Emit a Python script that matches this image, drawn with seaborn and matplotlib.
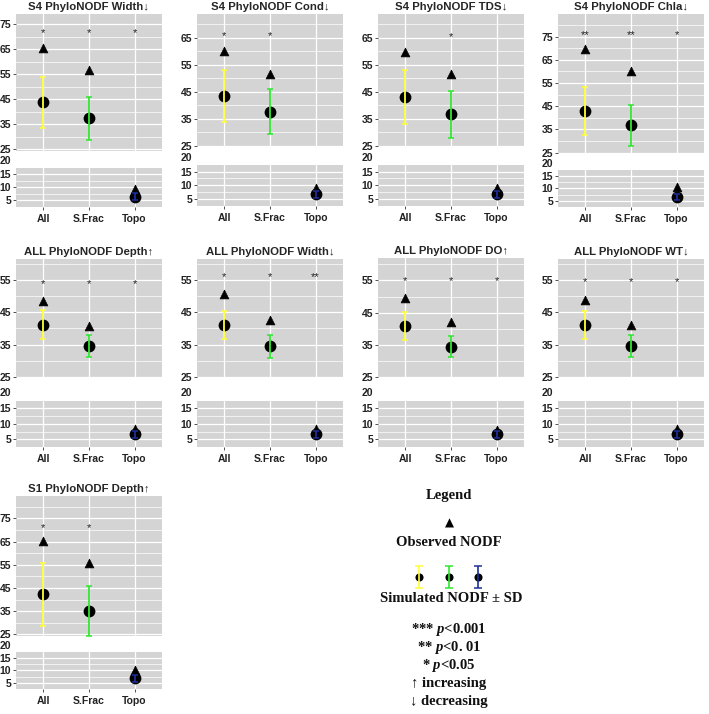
import matplotlib
matplotlib.use("Agg")
import matplotlib.pyplot as plt
import matplotlib.transforms as mtransforms
import numpy as np
import pandas as pd
import seaborn as sns

# --------------------------------------------------------------------------- #
# Dados
# --------------------------------------------------------------------------- #
panel_titles = [
    "S4 PhyloNODF Width↓", "S4 PhyloNODF Cond↓", "S4 PhyloNODF TDS↓",
    "S4 PhyloNODF Chla↓", "ALL PhyloNODF Depth↑", "ALL PhyloNODF Width↓",
    "ALL PhyloNODF DO↑", "ALL PhyloNODF WT↓", "S1 PhyloNODF Depth↑",
]
groups = ["All", "S.Frac", "Topo"]

observed = [
    [65.5, 56.8, 9.4], [60.0, 51.6, 9.2], [59.8, 51.6, 9.2],
    [69.7, 60.2, 10.5], [48.5, 40.7, 8.2], [50.6, 42.5, 8.4],
    [49.6, 41.9, 8.0], [49.0, 41.0, 8.2], [65.2, 55.6, 10.2],
]
sim_mean = [
    [43.7, 37.4, 6.5], [43.5, 37.6, 6.7], [42.9, 36.7, 6.7],
    [43.1, 36.8, 6.6], [41.2, 34.6, 6.6], [41.0, 34.4, 6.6],
    [40.9, 34.4, 6.6], [41.1, 34.6, 6.6], [42.2, 35.2, 6.8],
]
sim_sd = [
    [10.1, 8.6, 1.3], [9.7, 8.4, 1.3], [10.0, 8.7, 1.3],
    [10.4, 8.8, 1.3], [4.4, 3.5, 1.1], [4.4, 3.5, 1.1],
    [4.4, 3.4, 1.1], [4.4, 3.5, 1.1], [13.4, 10.8, 1.3],
]
stars = [
    ["*", "*", "*"], ["*", "*", ""], ["", "*", ""], ["**", "**", "*"],
    ["*", "*", "*"], ["*", "*", "**"], ["*", "*", "*"], ["*", "*", "*"],
    ["*", "*", ""],
]
star_y = [72.6, 66.6, 66.4, 76.9, 54.8, 56.9, 55.8, 55.3, 72.1]
upper_ylim = [
    (24.2, 79.2), (24.5, 73.8), (24.5, 73.8), (24.4, 84.8),
    (24.6, 61.6), (24.6, 61.6), (24.6, 62.0), (24.6, 61.6), (24.3, 84.6),
]
lower_ylim = (2.5, 17.4)

# --------------------------------------------------------------------------- #
# Layout (pixels)
# --------------------------------------------------------------------------- #
W, H = 709, 714
col_x = [16, 197, 378, 558]
AX_W = 146
# (topo sup., base sup., topo inf., base inf.)
panel_rows = [
    (14, 151, 168, 207), (14, 147, 165, 206), (14, 147, 165, 206), (14, 154, 170, 207),
    (259, 378, 401, 447), (259, 378, 401, 447), (258, 378, 401, 447), (259, 378, 401, 447),
    (496, 636, 652, 689),
]
BG = "#d4d4d4"
BAR_COLORS = ["#ffff3a", "#2ee82e", "#1f2f99"]
TICK_FONT = dict(fontsize=7.5, fontweight="bold", color="#222222")

sns.set_theme(style="darkgrid")
plt.rcParams["font.family"] = ["Liberation Sans", "DejaVu Sans"]
plt.rcParams["mathtext.fontset"] = "custom"
plt.rcParams["mathtext.it"] = "Liberation Serif:italic:bold"
plt.rcParams["mathtext.rm"] = "Liberation Serif:bold"

fig = plt.figure(figsize=(W / 100, H / 100), dpi=100)
fig.patch.set_facecolor("white")


def box(left, top, width, height):
    return [left / W, 1 - (top + height) / H, width / W, height / H]


def draw_marks(ax, df):
    ax.set_facecolor(BG)
    sns.scatterplot(data=df, x="group", y="observed", marker="^", s=40,
                    color="black", edgecolor="black", linewidth=0.5,
                    ax=ax, zorder=3, legend=False)
    sns.scatterplot(data=df, x="group", y="mean", marker="o", s=72,
                    color="black", edgecolor="black", linewidth=0,
                    ax=ax, zorder=3, legend=False)
    for color, (_, r) in zip(BAR_COLORS, df.iterrows()):
        ax.errorbar(r["group"], r["mean"], yerr=r["sd"], color=color,
                    lw=1.3, capsize=2, capthick=1.1, zorder=4)
    ax.set_xlim(-0.6, len(groups) - 0.4)
    ax.set_xlabel("")
    ax.set_ylabel("")
    ax.grid(which="major", color="white", lw=0.9)
    ax.grid(which="minor", axis="y", color="white", lw=0.5)
    ax.tick_params(which="major", length=2, width=0.6, color="#333333",
                   left=True, bottom=True, pad=1.5)
    ax.tick_params(which="minor", length=0)
    for lab in ax.get_yticklabels() + ax.get_xticklabels():
        lab.set_fontsize(TICK_FONT["fontsize"])
        lab.set_fontweight("bold")
        lab.set_color(TICK_FONT["color"])
    for s in ax.spines.values():
        s.set_visible(False)


for i, title in enumerate(panel_titles):
    df = pd.DataFrame({"group": groups, "observed": observed[i],
                       "mean": sim_mean[i], "sd": sim_sd[i]})
    col = i % 4
    t_up, b_up, t_lo, b_lo = panel_rows[i]
    x0 = col_x[col]

    # parte superior
    ax_u = fig.add_axes(box(x0, t_up, AX_W, b_up - t_up))
    lo, hi = upper_ylim[i]
    ax_u.set_yticks(np.arange(25, hi, 10))
    ax_u.set_yticks(np.arange(30, hi, 10), minor=True)
    draw_marks(ax_u, df)
    ax_u.set_ylim(lo, hi)
    ax_u.tick_params(axis="x", bottom=False, labelbottom=False)
    star_tr = mtransforms.offset_copy(ax_u.transData, fig=fig, y=-2.2, units="points")
    for j, st in enumerate(stars[i]):
        if st:
            ax_u.text(j, star_y[i], st, ha="center", va="center",
                      fontsize=8, color="#222222", transform=star_tr)
    ax_u.set_title(title, fontsize=8.2, fontweight="bold", pad=3)

    # parte inferior
    ax_l = fig.add_axes(box(x0, t_lo, AX_W, b_lo - t_lo))
    ax_l.set_yticks([5, 10, 15])
    ax_l.set_yticks([2.5, 7.5, 12.5, 17.5], minor=True)
    draw_marks(ax_l, df)
    ax_l.set_ylim(*lower_ylim)
    ax_l.tick_params(axis="x", pad=3)
    trans = mtransforms.blended_transform_factory(ax_l.transAxes, ax_l.transData)
    trans = mtransforms.offset_copy(trans, fig=fig, x=-3.5, units="points")
    ax_l.text(0, 20, "20", transform=trans, ha="right", va="center",
              clip_on=False, **TICK_FONT)

# --------------------------------------------------------------------------- #
# Legenda
# --------------------------------------------------------------------------- #
LX = 449 / W
serif = dict(family=["Liberation Serif", "DejaVu Serif"], fontweight="bold",
             fontsize=10.5, ha="center", va="center", color="#111111")
fig.text(LX, 1 - 495 / H, "Legend", **serif)
fig.text(LX, 1 - 523 / H, "▲", family="DejaVu Sans", fontsize=8.5,
         ha="center", va="center", color="black")
fig.text(LX, 1 - 542 / H, "Observed NODF", **serif)
fig.text(LX + 2 / W, 1 - 599 / H, "Simulated NODF ± SD", **serif)
fig.text(LX, 1 - 629 / H, r"*** $\mathit{p}$<0.001", **serif)
fig.text(LX, 1 - 647 / H, r"** $\mathit{p}$<0. 01", **serif)
fig.text(LX, 1 - 665 / H, r"* $\mathit{p}$<0.05", **serif)
fig.text(LX, 1 - 683 / H, "↑ increasing", **serif)
fig.text(LX, 1 - 702 / H, "↓ decreasing", **serif)

leg_ax = fig.add_axes(box(404, 560, 89, 34))
leg_df = pd.DataFrame({"x": [0, 1, 2], "y": [0, 0, 0], "sd": [1, 1, 1]})
sns.scatterplot(data=leg_df, x="x", y="y", s=34, color="black", linewidth=0,
                ax=leg_ax, zorder=3, legend=False)
for color, (_, r) in zip(BAR_COLORS, leg_df.iterrows()):
    leg_ax.errorbar(r["x"], r["y"], yerr=r["sd"], color=color, lw=1.2,
                    capsize=3, capthick=1.1, zorder=4)
leg_ax.set_xlim(-0.5, 2.5)
leg_ax.set_ylim(-1.5, 1.5)
leg_ax.axis("off")

fig.savefig("out.png", dpi=100)
